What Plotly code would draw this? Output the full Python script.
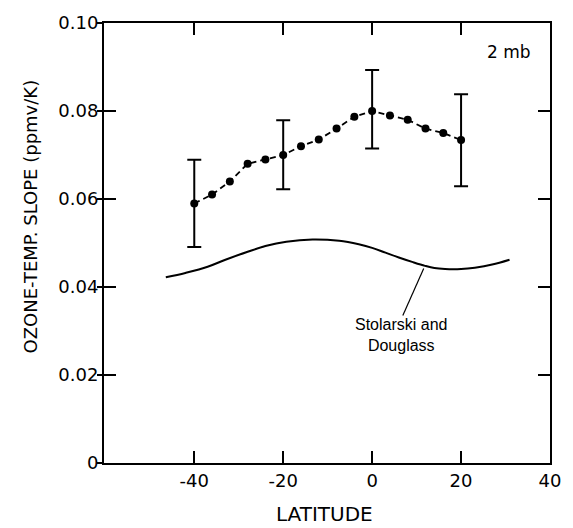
import plotly.graph_objects as go

# Data
lat = [-40, -36, -32, -28, -24, -20, -16, -12, -8, -4, 0, 4, 8, 12, 16, 20]
slope = [0.059, 0.061, 0.064, 0.068, 0.069, 0.070, 0.072, 0.0735, 0.076, 0.0787,
         0.080, 0.079, 0.078, 0.076, 0.075, 0.0734]

err_lat = [-40, -20, 0, 20]
err_center = [0.059, 0.070, 0.080, 0.0734]
err_plus = [0.0099, 0.0079, 0.0093, 0.0104]
err_minus = [0.0099, 0.0078, 0.0085, 0.0105]

sd_lat = [-46.4, -42, -37, -33, -28, -24, -19.3, -13.4, -7.4, -3, 0, 3, 6, 9, 11.9, 14, 16.4, 20, 23.1, 27, 30.9]
sd_val = [0.0422, 0.0432, 0.0446, 0.0462, 0.0480, 0.0493, 0.0503, 0.0508, 0.0505, 0.0497,
          0.0489, 0.0478, 0.0467, 0.0457, 0.0448, 0.0443, 0.0441, 0.0441, 0.0444, 0.0451, 0.0462]

x_ticks = [-40, -20, 0, 20, 40]
x_ticktext = ["-40", "-20", "0", "20", "40"]
y_ticks = [0, 0.02, 0.04, 0.06, 0.08, 0.10]
y_ticktext = ["0", "0.02", "0.04", "0.06", "0.08", "0.10"]

FONT = "DejaVu Sans"

fig = go.Figure()

fig.add_trace(go.Scatter(
    x=sd_lat, y=sd_val, mode="lines", line=dict(color="black", width=2, shape="spline"),
    showlegend=False, hoverinfo="skip"))

fig.add_trace(go.Scatter(
    x=err_lat, y=err_center, mode="markers", marker=dict(size=1, color="black"),
    error_y=dict(type="data", array=err_plus, arrayminus=err_minus, symmetric=False,
                 color="black", thickness=2, width=7),
    showlegend=False, hoverinfo="skip"))

fig.add_trace(go.Scatter(
    x=lat, y=slope, mode="lines+markers",
    line=dict(color="black", width=1.8, dash="6px,4px"),
    marker=dict(size=8, color="black"),
    showlegend=False))

# leader line for annotation (in data coordinates)
fig.add_trace(go.Scatter(
    x=[11.6, 6.9], y=[0.0442, 0.0335], mode="lines", line=dict(color="black", width=1.2),
    showlegend=False, hoverinfo="skip"))

# dummy trace to activate yaxis2 (outer half of left ticks)
fig.add_trace(go.Scatter(x=[None], y=[None], yaxis="y2", showlegend=False))

fig.update_layout(
    width=573, height=528,
    margin=dict(l=104, r=19, t=14, b=65),
    plot_bgcolor="white", paper_bgcolor="white",
    font=dict(family=FONT, color="black", size=18),
    xaxis=dict(range=[-60.3, 40], tickvals=x_ticks, ticktext=x_ticktext, ticks="inside", ticklen=12,
               tickwidth=1.5, tickcolor="black", showline=True, linewidth=2, linecolor="black",
               mirror="ticks", showgrid=False, zeroline=False,
               tickfont=dict(family=FONT, size=18)),
    yaxis=dict(range=[0, 0.10], tickvals=y_ticks, ticktext=y_ticktext, ticks="inside",
               ticklen=12, tickwidth=1.5, tickcolor="black", showline=True, linewidth=2,
               linecolor="black", mirror="ticks", showgrid=False, zeroline=False,
               tickfont=dict(family=FONT, size=18)),
    yaxis2=dict(range=[0, 0.10], tickvals=y_ticks, overlaying="y", side="left", anchor="x",
                ticks="outside", ticklen=6, tickwidth=1.5, tickcolor="black",
                showticklabels=False, showgrid=False, zeroline=False, showline=False),
    annotations=[
        dict(text="OZONE-TEMP. SLOPE (ppmv/K)", xref="paper", yref="paper",
             x=-0.164, y=0.56, textangle=-90, showarrow=False,
             font=dict(family=FONT, size=18), xanchor="center", yanchor="middle"),
        dict(text="LATITUDE", xref="paper", yref="paper", x=0.495, y=-0.115,
             showarrow=False, font=dict(family=FONT, size=20), xanchor="center", yanchor="middle"),
        dict(text="2 mb", xref="x", yref="y", x=30.7, y=0.0934, showarrow=False,
             font=dict(family=FONT, size=17), xanchor="center", yanchor="middle"),
        dict(text="Stolarski and<br>Douglass", xref="x", yref="y", x=6.7, y=0.0291,
             showarrow=False, font=dict(family="Liberation Sans", size=16),
             xanchor="center", yanchor="middle", align="center"),
    ],
)

fig.write_html("out.html")
